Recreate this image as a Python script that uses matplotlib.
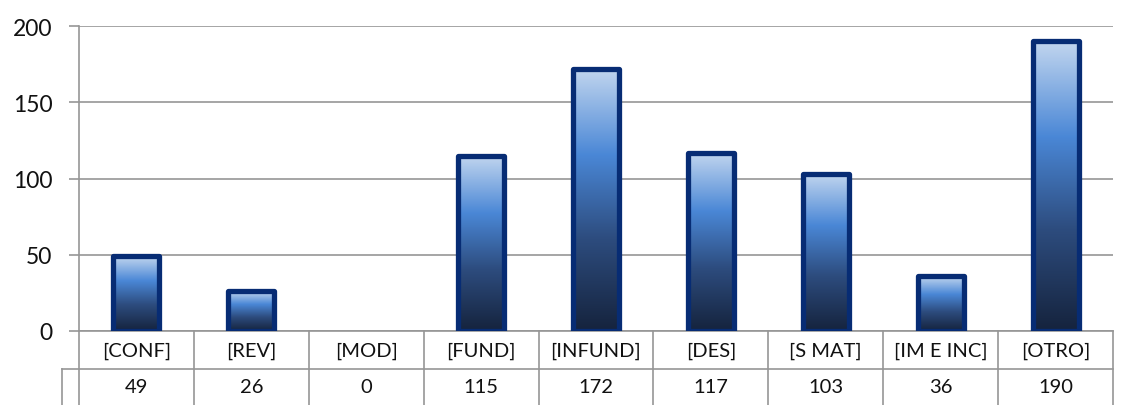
import numpy as np
import matplotlib
matplotlib.use("Agg")
import matplotlib.pyplot as plt
from matplotlib.colors import LinearSegmentedColormap
from matplotlib.lines import Line2D

categories = ["[CONF]", "[REV]", "[MOD]", "[FUND]", "[INFUND]", "[DES]", "[S MAT]", "[IM E INC]", "[OTRO]"]
values = [49, 26, 0, 115, 172, 117, 103, 36, 190]
yticks = [0, 50, 100, 150, 200]

plt.rcParams['font.family'] = ['Lato', 'DejaVu Sans']

fig = plt.figure(figsize=(11.47, 4.06), dpi=100)
ax = fig.add_axes([79/1147, 1-332/406, (1113-79)/1147, (332-27)/406])

n = len(categories)
ax.set_xlim(-0.5, n-0.5)
ax.set_ylim(0, 200)
ax.set_yticks(yticks)
ax.set_xticks([])
grid_c = "#969696"
ax.yaxis.grid(True, color=grid_c, linewidth=1.2)
ax.set_axisbelow(True)
for s in ["top", "right", "bottom"]:
    ax.spines[s].set_visible(False)
ax.spines["left"].set_color(grid_c)
ax.spines["left"].set_linewidth(1.2)
ax.tick_params(axis="y", length=7, width=1.2, color=grid_c, labelsize=16.5, pad=12, labelcolor="#111111")

cmap = LinearSegmentedColormap.from_list("g", [(0, "#15233d"), (0.35, "#2d4c7e"), (0.67, "#4a87d6"), (1.0, "#c2d6ef")])
grad = np.linspace(0, 1, 256).reshape(-1, 1)

width = 0.40
bars = ax.bar(range(n), values, width=width, facecolor="none", edgecolor="#072c74", linewidth=3.8, zorder=3)
for b, v in zip(bars, values):
    b.set_joinstyle("round")
    if v == 0:
        b.set_visible(False)
        continue
    x0 = b.get_x(); w = b.get_width(); h = b.get_height()
    im = ax.imshow(grad, cmap=cmap, origin="lower", extent=[x0, x0+w, 0, h], aspect="auto", zorder=2)
    im.set_clip_path(b)
ax.set_xlim(-0.5, n-0.5)
ax.set_ylim(0, 200)

# data table below
tr = ax.get_xaxis_transform()
row1 = -38/305
row2 = -80/305
lw = 1.2
ax.add_line(Line2D([-0.5, n-0.5], [0, 0], transform=tr, color=grid_c, lw=lw, clip_on=False))
ax.add_line(Line2D([-0.648, n-0.5], [row1, row1], transform=tr, color=grid_c, lw=lw, clip_on=False))
ax.add_line(Line2D([-0.648, -0.648], [row1, row2], transform=tr, color=grid_c, lw=lw, clip_on=False))
for k in range(n+1):
    xk = k - 0.5
    ax.add_line(Line2D([xk, xk], [0, row2], transform=tr, color=grid_c, lw=lw, clip_on=False))
for i, (c, v) in enumerate(zip(categories, values)):
    ax.text(i, row1/2, c, transform=tr, ha="center", va="center", fontsize=14.5, color="#111111")
    ax.text(i, row1 + (-36/305)/2, str(v), transform=tr, ha="center", va="center", fontsize=14.5, color="#111111")

fig.savefig("out.png", dpi=100)
